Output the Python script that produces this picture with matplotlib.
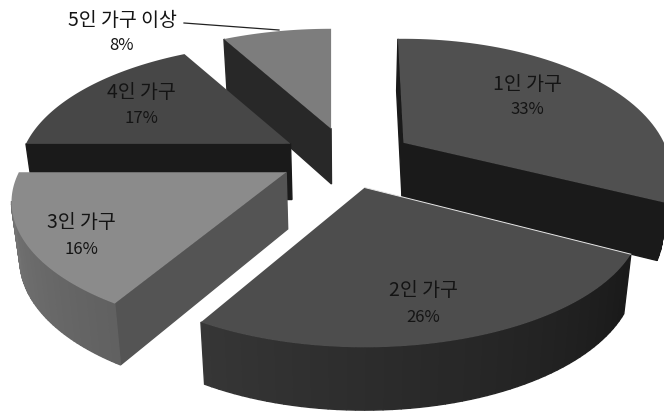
import numpy as np
import matplotlib
matplotlib.use("Agg")
import matplotlib.pyplot as plt
from matplotlib.patches import Polygon

plt.rcParams['font.family'] = ['Noto Sans CJK KR', 'DejaVu Sans']

categories = ['1인 가구', '2인 가구', '3인 가구', '4인 가구', '5인 가구 이상']
shares = [33, 26, 16, 17, 8]

# per slice greys: top face, flat cut face, outer wall at its start and end
topGrey = [0.315, 0.30, 0.545, 0.28, 0.49]
cutGrey = [0.10, 0.10, 0.33, 0.10, 0.155]
wallGrey = [(0.12, 0.10), (0.10, 0.21), (0.38, 0.47), (0.2, 0.2), (0.3, 0.3)]
labelCentre = [(527, 85), (423, 291), (81, 223), (141, 93), (122, 20)]
percentCentre = [(527, 110), (423, 318), (81, 250), (141, 119), (121, 46)]

# the original's 3d view is not a clean projection, so each slice gets a small fit:
# start nudge and end nudge in degrees, x scale, y scale, apex shift down
sliceFit = [(-1.5, -3.8, 0.965, 1.04, 1), (0, -3.4, 1, 1, -1), (-1.4, 0, 0.99, 1, 0), (0, 0, 0.98, 1, 2), (0, 0, 0.99, 1, 0)]

CENTRE = (347, 158)
RX, RY, PERSP = 270, 123, 0.23
EXPLODE = 0.25
DRAW_ORDER = [4, 3, 0, 2, 1]


def project(r: float, theta: float) -> "tuple[float, float]":
    s, c = np.sin(theta), np.cos(theta)
    w = 1 + PERSP * r * c
    return RX * r * s / w, -RY * r * c / w


def lower(point) -> "tuple[float, float]":
    # the underside of the pie is a bit narrower and further down near the viewer
    x, y = point
    return CENTRE[0] + (x - CENTRE[0]) * 0.975, y + 52 + 0.035 * (y - 38)


def grey(v: float) -> tuple:
    return (v, v, v)


def drawSlice(ax, i: int, start: float, end: float) -> None:
    mid = (start + end) / 2
    ox, oy = project(EXPLODE, mid)
    startNudge, endNudge, xScale, yScale, apexDown = sliceFit[i]
    apex = (CENTRE[0] + ox, CENTRE[1] + oy + apexDown)
    thetas = np.linspace(start + np.radians(startNudge), end + np.radians(endNudge), 60)
    rim = [(apex[0] + xScale * project(1, t)[0], apex[1] + yScale * project(1, t)[1]) for t in thetas]

    def wall(a, b, colour, order):
        if b[0] < a[0]:
            ax.add_patch(Polygon([a, b, lower(b), lower(a)], fc=colour, ec=colour, lw=1.0, zorder=order))

    order = DRAW_ORDER.index(i) * 10 + 1
    wall(apex, rim[0], grey(cutGrey[i]), order)
    for k in range(len(rim) - 1):
        g = wallGrey[i][0] + (wallGrey[i][1] - wallGrey[i][0]) * k / (len(rim) - 2)
        wall(rim[k], rim[k + 1], grey(g), order)
    wall(rim[-1], apex, grey(cutGrey[i]), order)

    ax.add_patch(Polygon([apex] + rim, fc=grey(topGrey[i]), ec='none', zorder=order + 1))
    if i == 1:
        ax.plot([apex[0], rim[0][0]], [apex[1], rim[0][1]], c='#e8e8e8', lw=0.7, zorder=order + 2)


def mainPie() -> None:
    fig = plt.figure(figsize=(6.64, 4.14), dpi=100)
    ax = fig.add_axes([0, 0, 1, 1])
    ax.set_xlim(0, 664)
    ax.set_ylim(414, 0)
    ax.axis('off')

    edges = np.concatenate([[0], np.cumsum(shares)]) / sum(shares) * 2 * np.pi
    for i in range(len(shares)):
        drawSlice(ax, i, edges[i], edges[i + 1])

    for i, name in enumerate(categories):
        ax.text(*labelCentre[i], name, ha='center', va='center', fontsize=14, color='#141414', zorder=100)
        ax.text(*percentCentre[i], f"{shares[i]}%", ha='center', va='center', fontsize=12, color='#141414', zorder=100)

    ax.plot([184, 279], [24, 31], c='#222222', lw=0.9, zorder=100)
    fig.savefig('out.png', dpi=100)


if __name__ == "__main__":
    mainPie()
